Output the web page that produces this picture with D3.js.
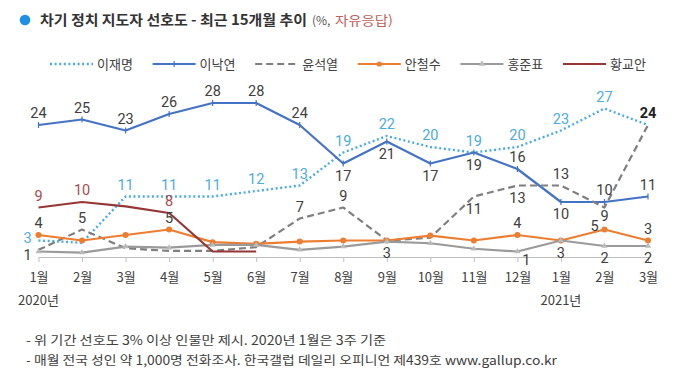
<!DOCTYPE html>
<html><head><meta charset="utf-8">
<script src="https://cdn.jsdelivr.net/npm/d3@7"></script>
<style>body{margin:0;background:#fff}svg{display:block}</style>
</head><body><svg id="c" width="680" height="373"></svg>
<script>
// ---- data ----
const months = ["1월","2월","3월","4월","5월","6월","7월","8월","9월","10월","11월","12월","1월","2월","3월"];
const yearLabels = ["2020년","2021년"];
const yearIndex = [0, 12];
const seriesNames = ["이재명","이낙연","윤석열","안철수","홍준표","황교안"];
const leeJM  = [3, 2.6, 11, 11, 11, 12, 13, 19, 22, 20, 19, 20, 23, 27, 24];
const leeNY  = [24, 25, 23, 26, 28, 28, 24, 17, 21, 17, 19, 16, 10, 10, 11];
const yoonSY = [1.3, 5, 1.6, 1.1, 1.1, 1.8, 7, 9, 3, 3.5, 11, 13, 13, 9, 24];
const ahnCS  = [4, 3, 4, 5, 2.7, 2.4, 2.8, 3, 3, 3.9, 3, 4, 3, 5, 3];
const hongJP = [1, 0.8, 1.9, 1.7, 2.2, 2.2, 1.3, 1.9, 2.8, 2.5, 1.5, 1, 3, 2, 2];
const hwangKA= [9, 10, 9.2, 8, 1, 1, null, null, null, null, null, null, null, null, null];
const titleMain = "차기 정치 지도자 선호도 - 최근 15개월 추이";
const titleSub1 = "(%,";
const titleSub2 = "자유응답)";
const notes = ["- 위 기간 선호도 3% 이상 인물만 제시. 2020년 1월은 3주 기준",
               "- 매월 전국 성인 약 1,000명 전화조사. 한국갤럽 데일리 오피니언 제439호 www.gallup.co.kr"];

// ---- label placement (style config) ----
// a=above b=below bs=below-short l=left ll=left-lower lm=left-middle br=below-right A=above bold
const labelPos = [
  ["l","","a","a","a","a","a","a","a","a","a","a","a","a",""],
  ["a","a","a","a","a","a","a","b","b","b","b","a","b","a","a"],
  ["","a","","","","","a","a","b","","b","b","a","bs","A"],
  ["a","","","a","","","","","","","","a","","lm","a"],
  ["ll","","","","","","","","","","","br","b","b","b"],
  ["a","a","","a","","","","","","","","","","",""]
];
const colors = ["#4BACE0","#4472C4","#7F7F7F","#ED7D31","#9A9A9A","#953735"];
const labelColors = ["#4BACE0","#404040","#404040","#404040","#404040","#A94A52"];
const dashes = ["2,2.6", null, "7,4", null, null, null];
const widths = [2.4, 2.2, 2.2, 2.2, 2.2, 2.2];

const allSeries = [leeJM, leeNY, yoonSY, ahnCS, hongJP, hwangKA];

const svg = d3.select("#c");
const font = "'Noto Sans CJK KR','Noto Sans',sans-serif";

const x = d3.scalePoint().domain(d3.range(months.length)).range([38.5, 648]);
const y = d3.scaleLinear().domain([0, 30]).range([257, 92]);

// title
svg.append("circle").attr("cx", 25).attr("cy", 20).attr("r", 5.3).attr("fill", "#1E8FE6");
svg.append("text").attr("x", 40).attr("y", 25).attr("font-family", font).attr("font-size", 14)
  .attr("font-weight", "bold").attr("fill", "#333").attr("textLength", 267).attr("lengthAdjust","spacingAndGlyphs")
  .text(titleMain);
svg.append("text").attr("x", 312).attr("y", 25).attr("font-family", font).attr("font-size", 12)
  .attr("fill", "#555").text(titleSub1);
svg.append("text").attr("x", 335).attr("y", 25).attr("font-family", font).attr("font-size", 13)
  .attr("fill", "#C0605A").attr("textLength", 58).attr("lengthAdjust","spacingAndGlyphs").text(titleSub2);

// legend
seriesNames.forEach((name, i) => {
  const x0 = 50 + i * 102.6, ly = 64;
  const g = svg.append("g");
  const ln = g.append("line").attr("x1", x0).attr("x2", x0 + 43).attr("y1", ly).attr("y2", ly)
    .attr("stroke", colors[i]).attr("stroke-width", widths[i]);
  if (dashes[i]) ln.attr("stroke-dasharray", dashes[i]);
  const cx = x0 + 21.5;
  if (i === 1) g.append("line").attr("x1", cx).attr("x2", cx).attr("y1", ly - 3).attr("y2", ly + 3).attr("stroke", colors[i]).attr("stroke-width", 1.2);
  if (i === 3) g.append("circle").attr("cx", cx).attr("cy", ly).attr("r", 2.6).attr("fill", colors[i]);
  if (i === 4) g.append("path").attr("d", d3.symbol(d3.symbolTriangle, 18)()).attr("transform", `translate(${cx},${ly})`).attr("fill", "#BBBBBB");
  g.append("text").attr("x", x0 + 47).attr("y", ly + 4.5).attr("font-family", font).attr("font-size", 13)
    .attr("fill", "#404040").text(name);
});

// axis
const axis = d3.axisBottom(x).tickSize(5).tickSizeOuter(0).tickPadding(11).tickFormat(i => months[i]);
const ag = svg.append("g").attr("transform", "translate(0,257)").call(axis);
ag.select(".domain").attr("stroke", "#BFBFBF");
ag.selectAll(".tick line").attr("stroke", "#BFBFBF");
ag.selectAll(".tick text").attr("font-family", font).attr("font-size", 13).attr("fill", "#404040");

yearLabels.forEach((t, k) => {
  svg.append("text").attr("x", x(yearIndex[k])).attr("y", 305).attr("text-anchor", "middle")
    .attr("font-family", font).attr("font-size", 13).attr("fill", "#404040").text(t);
});

// lines
const line = d3.line().defined(d => d != null).x((d, i) => x(i)).y(d => y(d));
allSeries.forEach((s, i) => {
  const p = svg.append("path").datum(s).attr("d", line).attr("fill", "none")
    .attr("stroke", colors[i]).attr("stroke-width", widths[i]).attr("stroke-linejoin", "round");
  if (dashes[i]) p.attr("stroke-dasharray", dashes[i]);
  const pts = s.map((v, j) => ({v, j})).filter(d => d.v != null);
  if (i === 1) {
    svg.append("g").selectAll("line").data(pts).join("line")
      .attr("x1", d => x(d.j)).attr("x2", d => x(d.j)).attr("y1", d => y(d.v) - 3).attr("y2", d => y(d.v) + 3)
      .attr("stroke", colors[i]).attr("stroke-width", 1.2);
  }
  if (i === 3) {
    svg.append("g").selectAll("circle").data(pts).join("circle")
      .attr("cx", d => x(d.j)).attr("cy", d => y(d.v)).attr("r", 3).attr("fill", colors[i]);
  }
  if (i === 4) {
    svg.append("g").selectAll("path").data(pts).join("path")
      .attr("d", d3.symbol(d3.symbolTriangle, 16)())
      .attr("transform", d => `translate(${x(d.j)},${y(d.v)})`).attr("fill", "#BBBBBB");
  }
});

// data labels
allSeries.forEach((s, i) => {
  s.forEach((v, j) => {
    const pos = labelPos[i][j];
    if (!pos || v == null) return;
    let lx = x(j), ly = y(v);
    if (pos === "a" || pos === "A") ly -= 7;
    else if (pos === "b") ly += 17;
    else if (pos === "bs") ly += 13;
    else if (pos === "l") { lx -= 11; ly += 2.5; }
    else if (pos === "ll") { lx -= 11; ly += 8.5; }
    else if (pos === "lm") { lx -= 10; ly += 1; }
    else if (pos === "br") { lx += 9; ly += 13; }
    svg.append("text").attr("x", lx).attr("y", ly).attr("text-anchor", "middle")
      .attr("font-family", "Roboto, 'Noto Sans', sans-serif").attr("font-size", 14.5)
      .attr("font-weight", pos === "A" ? "bold" : "normal")
      .attr("fill", pos === "A" ? "#222" : labelColors[i]).text(d3.format("d")(Math.round(v)));
  });
});

// notes
svg.append("text").attr("x", 26).attr("y", 345).attr("font-family", font).attr("font-size", 12.5)
  .attr("fill", "#404040").attr("textLength", 360).attr("lengthAdjust","spacingAndGlyphs").text(notes[0]);
svg.append("text").attr("x", 26).attr("y", 365).attr("font-family", font).attr("font-size", 12.5)
  .attr("fill", "#404040").attr("textLength", 531).attr("lengthAdjust","spacingAndGlyphs").text(notes[1]);
</script></body></html>
